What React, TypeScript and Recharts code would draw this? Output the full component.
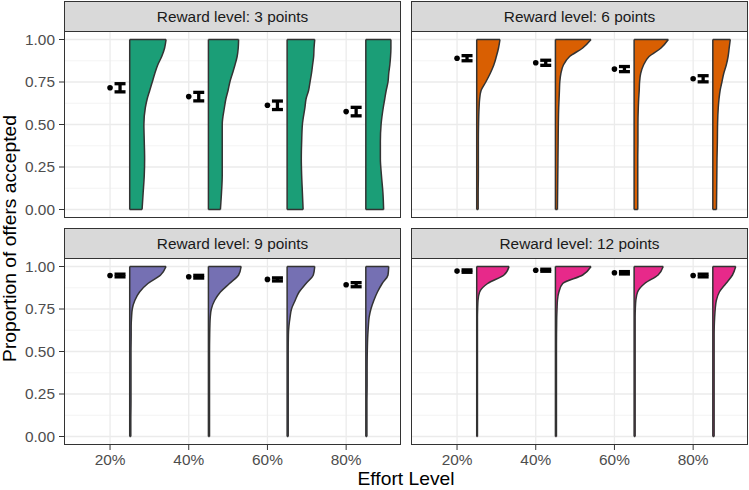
import { ComposedChart, Area, XAxis, YAxis, CartesianGrid, Scatter, ErrorBar, ReferenceLine } from "recharts"

const FONT = '"Liberation Sans", Arial, Helvetica, sans-serif'

const effortLabels = ["20%", "40%", "60%", "80%"]
const effortIndex = [1, 2, 3, 4]
const rewardLevels = [3, 6, 9, 12]
const rewardColors = ["#1B9E77", "#D95F02", "#7570B3", "#E7298A"]
const yTicks = [0, 0.25, 0.5, 0.75, 1]
const yMinorTicks = [0.125, 0.375, 0.625, 0.875]

// proportion levels where the violin density was read
const densityGrid = [0, 0.1, 0.2, 0.3, 0.4, 0.5, 0.6, 0.65, 0.7, 0.75, 0.8, 0.85, 0.9, 0.95, 1]

// reward 3
const dens3_20 = [0.34, 0.37, 0.4, 0.41, 0.4, 0.39, 0.43, 0.48, 0.55, 0.62, 0.69, 0.77, 0.88, 0.96, 1.0]
const dens3_40 = [0.33, 0.36, 0.38, 0.38, 0.38, 0.38, 0.44, 0.48, 0.54, 0.59, 0.66, 0.73, 0.79, 0.82, 0.83]
const dens3_60 = [0.44, 0.42, 0.4, 0.39, 0.4, 0.42, 0.49, 0.52, 0.59, 0.63, 0.67, 0.7, 0.73, 0.74, 0.76]
const dens3_80 = [0.49, 0.47, 0.43, 0.4, 0.4, 0.42, 0.48, 0.52, 0.56, 0.61, 0.63, 0.66, 0.68, 0.69, 0.69]
// reward 6
const dens6_20 = [0.04, 0.04, 0.045, 0.045, 0.045, 0.05, 0.065, 0.08, 0.12, 0.25, 0.37, 0.47, 0.54, 0.6, 0.64]
const dens6_40 = [0.055, 0.06, 0.065, 0.07, 0.075, 0.08, 0.09, 0.1, 0.11, 0.12, 0.15, 0.22, 0.39, 0.75, 0.98]
const dens6_60 = [0.1, 0.1, 0.1, 0.1, 0.105, 0.105, 0.115, 0.125, 0.14, 0.15, 0.18, 0.26, 0.41, 0.74, 0.94]
const dens6_80 = [0.1, 0.105, 0.11, 0.115, 0.125, 0.13, 0.15, 0.17, 0.2, 0.25, 0.3, 0.37, 0.42, 0.45, 0.48]
// reward 9
const dens9_20 = [0.03, 0.03, 0.035, 0.035, 0.035, 0.035, 0.04, 0.04, 0.05, 0.07, 0.14, 0.27, 0.5, 0.85, 1.0]
const dens9_40 = [0.03, 0.03, 0.03, 0.03, 0.03, 0.03, 0.035, 0.04, 0.05, 0.08, 0.17, 0.33, 0.58, 0.83, 0.9]
const dens9_60 = [0.03, 0.03, 0.03, 0.03, 0.03, 0.03, 0.035, 0.05, 0.08, 0.12, 0.22, 0.33, 0.52, 0.72, 0.76]
const dens9_80 = [0.03, 0.03, 0.03, 0.035, 0.035, 0.04, 0.055, 0.07, 0.09, 0.14, 0.22, 0.32, 0.45, 0.61, 0.63]
// reward 12
const dens12_20 = [0.02, 0.02, 0.02, 0.02, 0.02, 0.02, 0.02, 0.02, 0.02, 0.025, 0.035, 0.08, 0.3, 0.75, 0.89]
const dens12_40 = [0.028, 0.028, 0.028, 0.028, 0.028, 0.028, 0.03, 0.033, 0.036, 0.044, 0.055, 0.095, 0.2, 0.75, 0.98]
const dens12_60 = [0.028, 0.028, 0.028, 0.028, 0.028, 0.028, 0.028, 0.028, 0.028, 0.033, 0.047, 0.095, 0.29, 0.66, 0.8]
const dens12_80 = [0.036, 0.036, 0.036, 0.036, 0.036, 0.036, 0.036, 0.04, 0.05, 0.066, 0.096, 0.18, 0.36, 0.54, 0.63]

// means and error half-widths per effort level
const mean3 = [0.716, 0.664, 0.613, 0.576]
const err3 = [0.024, 0.025, 0.025, 0.025]
const mean6 = [0.89, 0.863, 0.826, 0.769]
const err6 = [0.015, 0.015, 0.015, 0.018]
const mean9 = [0.947, 0.94, 0.924, 0.893]
const err9 = [0.008, 0.008, 0.009, 0.012]
const mean12 = [0.973, 0.978, 0.963, 0.947]
const err12 = [0.007, 0.006, 0.007, 0.008]

const densities = [
  [dens3_20, dens3_40, dens3_60, dens3_80],
  [dens6_20, dens6_40, dens6_60, dens6_80],
  [dens9_20, dens9_40, dens9_60, dens9_80],
  [dens12_20, dens12_40, dens12_60, dens12_80],
]
const means = [mean3, mean6, mean9, mean12]
const errs = [err3, err6, err9, err12]

const X_DOMAIN: [number, number] = [0.415, 4.697]
const Y_DOMAIN: [number, number] = [-0.05, 1.05]
const VIOLIN_OFFSET = 0.25
const VIOLIN_SCALE = 0.462
const ERR_OFFSET = 0.127
const OUTLINE = "#333333"
const OUTLINE_W = 1.5

const PANEL_W = 337
const PANEL_H = 187
const STRIP_H = 30
const AXIS_W = 64
const X_AXIS_H = 26
const colLeft = [64, 411]
const stripTop = [1, 228]

function Panel({ idx }: { idx: number }) {
  const col = idx % 2
  const row = Math.floor(idx / 2)
  const showY = col === 0
  const showX = row === 1
  const color = rewardColors[idx]
  const dens = densities[idx]

  const rows = densityGrid.map((y, j) => {
    const r: Record<string, number | number[]> = { y }
    dens.forEach((d, i) => {
      const lo = effortIndex[i] + VIOLIN_OFFSET
      r[`v${i}`] = [lo, lo + d[j] * VIOLIN_SCALE]
    })
    return r
  })
  const points = effortIndex.map((x, i) => ({ x, y: means[idx][i] }))
  const bars = effortIndex.map((x, i) => ({ x: x + ERR_OFFSET, y: means[idx][i], err: errs[idx][i] }))

  const chartLeft = showY ? colLeft[col] - AXIS_W : colLeft[col]
  const chartW = showY ? PANEL_W + AXIS_W : PANEL_W
  const chartH = showX ? PANEL_H + X_AXIS_H : PANEL_H
  const panelTop = stripTop[row] + STRIP_H

  return (
    <>
      <div style={{ position: "absolute", left: chartLeft, top: panelTop }}>
        <ComposedChart
          width={chartW}
          height={chartH}
          layout="vertical"
          data={rows}
          margin={{ top: 0, right: 0, bottom: 0, left: 0 }}
        >
          <CartesianGrid horizontalValues={yMinorTicks} vertical={false} stroke="#efefef" strokeWidth={0.7} />
          <CartesianGrid horizontalValues={yTicks} verticalValues={effortIndex} stroke="#ebebeb" strokeWidth={1.3} />
          <XAxis
            type="number"
            dataKey="x"
            domain={X_DOMAIN}
            allowDataOverflow
            ticks={effortIndex}
            tickFormatter={(v: number) => effortLabels[v - 1]}
            hide={!showX}
            height={X_AXIS_H}
            axisLine={false}
            tickSize={5}
            tickMargin={4}
            tickLine={{ stroke: OUTLINE }}
            tick={{ fontSize: 15.4, fill: "#4d4d4d", fontFamily: FONT }}
          />
          <YAxis
            type="number"
            dataKey="y"
            domain={Y_DOMAIN}
            reversed
            allowDataOverflow
            ticks={yTicks}
            interval={0}
            tickFormatter={(v: number) => v.toFixed(2)}
            hide={!showY}
            width={AXIS_W}
            axisLine={false}
            tickSize={5}
            tickMargin={4}
            tickLine={{ stroke: OUTLINE }}
            tick={{ fontSize: 15.4, fill: "#4d4d4d", fontFamily: FONT }}
          />
          {dens.map((_, i) => (
            <Area
              key={i}
              dataKey={`v${i}`}
              type="monotone"
              fill={color}
              fillOpacity={1}
              stroke={OUTLINE}
              strokeWidth={OUTLINE_W}
              isAnimationActive={false}
            />
          ))}
          {dens.map((d, i) => {
            const lo = effortIndex[i] + VIOLIN_OFFSET
            return (
              <ReferenceLine
                key={`top${i}`}
                segment={[{ x: lo, y: 1 }, { x: lo + d[d.length - 1] * VIOLIN_SCALE, y: 1 }]}
                stroke={OUTLINE}
                strokeWidth={OUTLINE_W}
              />
            )
          })}
          {dens.map((d, i) => {
            const lo = effortIndex[i] + VIOLIN_OFFSET
            return (
              <ReferenceLine
                key={`bot${i}`}
                segment={[{ x: lo, y: 0 }, { x: lo + d[0] * VIOLIN_SCALE, y: 0 }]}
                stroke={OUTLINE}
                strokeWidth={OUTLINE_W}
              />
            )
          })}
          <Scatter data={bars} fill="none" isAnimationActive={false}>
            <ErrorBar dataKey="err" direction="y" width={5.5} strokeWidth={3.3} stroke="#000000" isAnimationActive={false} />
          </Scatter>
          <Scatter
            data={points}
            isAnimationActive={false}
            shape={(p: { cx?: number; cy?: number }) => <circle cx={p.cx} cy={p.cy} r={2.8} fill="#000000" />}
          />
        </ComposedChart>
      </div>
      <div
        style={{
          position: "absolute",
          left: colLeft[col],
          top: stripTop[row],
          width: PANEL_W,
          height: STRIP_H + 1,
          boxSizing: "border-box",
          background: "#d9d9d9",
          border: "1px solid #333333",
          display: "flex",
          alignItems: "center",
          justifyContent: "center",
          fontFamily: FONT,
          fontSize: 15.4,
          color: "#1a1a1a",
        }}
      >
        Reward level: {rewardLevels[idx]} points
      </div>
      <div
        style={{
          position: "absolute",
          left: colLeft[col],
          top: panelTop,
          width: PANEL_W,
          height: PANEL_H,
          boxSizing: "border-box",
          border: "1px solid #333333",
          pointerEvents: "none",
        }}
      />
    </>
  )
}

export default function App() {
  return (
    <div style={{ position: "absolute", left: 0, top: 0, width: 749, height: 490, background: "#ffffff", overflow: "hidden" }}>
      {[0, 1, 2, 3].map((i) => (
        <Panel key={i} idx={i} />
      ))}
      <svg width={749} height={490} style={{ position: "absolute", left: 0, top: 0, pointerEvents: "none" }}>
        <text x={406} y={485} textAnchor="middle" fontFamily={FONT} fontSize={19.25} fill="#000000">
          Effort Level
        </text>
        <text
          x={15.5}
          y={238.5}
          transform="rotate(-90 15.5 238.5)"
          textAnchor="middle"
          fontFamily={FONT}
          fontSize={19.25}
          fill="#000000"
        >
          Proportion of offers accepted
        </text>
      </svg>
    </div>
  )
}
